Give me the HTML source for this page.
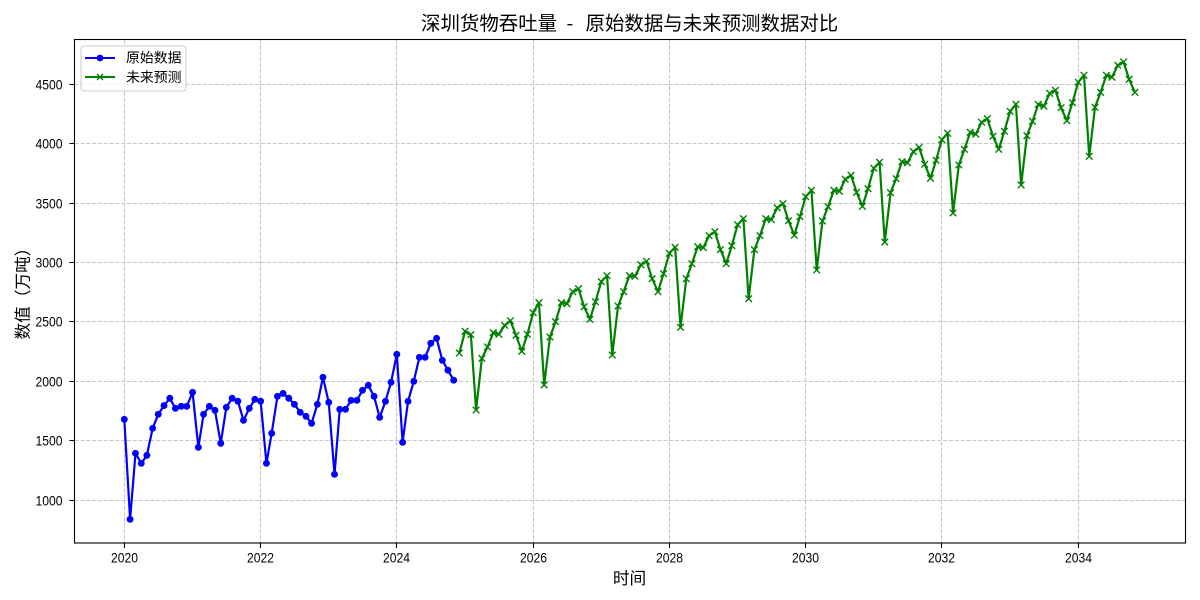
<!DOCTYPE html>
<html lang="zh">
<head>
<meta charset="utf-8">
<title>深圳货物吞吐量</title>
<style>
html,body{margin:0;padding:0;background:#fff;width:1200px;height:600px;overflow:hidden}
svg{display:block}
text{font-family:"WenQuanYi Zen Hei","Noto Sans CJK SC","Liberation Sans",sans-serif;fill:#000;text-spacing-trim:space-all}
text.num{font-family:"Liberation Sans",sans-serif}
</style>
</head>
<body>
<svg id="chart" width="1200" height="600" viewBox="0 0 1200 600" xmlns="http://www.w3.org/2000/svg">
  <rect x="0" y="0" width="1200" height="600" fill="#fff"/>
  <g id="grid"></g>
  <g id="series"></g>
  <rect x="74.5" y="39.5" width="1111" height="503.5" fill="none" stroke="#000" stroke-width="1.1"/>
  <g id="ticks"></g>
  <text y="30" font-size="19.44"><tspan x="421">深圳货物吞吐量</tspan> <tspan x="566.5">-</tspan> <tspan x="585.5">原始数据与未来预测数据对比</tspan></text>
  <text x="629.5" y="584" font-size="16.67" text-anchor="middle">时间</text>
  <text transform="translate(28.5,289.5) rotate(-90)" font-size="16.67" text-anchor="middle">数值（万吨）</text>
  <g>
    <rect x="81" y="46" width="105" height="45" rx="3" ry="3" fill="#fff" fill-opacity="0.8" stroke="#ccc" stroke-width="1.1"/>
    <g>
      <line x1="85" y1="58" x2="115" y2="58" stroke="#0000ff" stroke-width="2.08"/>
      <circle cx="100" cy="58" r="3.4" fill="#0000ff"/>
      <text x="126" y="62.5" font-size="13.89">原始数据</text>
    </g>
    <g>
      <line x1="85" y1="77" x2="115" y2="77" stroke="#008000" stroke-width="2.08"/>
      <path d="M97 74L103 80M97 80L103 74" stroke="#008000" stroke-width="1.4" fill="none"/>
      <text x="126" y="82" font-size="13.89">未来预测</text>
    </g>
  </g>
</svg>
<script>
const originalStart = [2020, 0];
const originalValues = [1680,837,1393,1309,1376,1604,1722,1795,1857,1772,1789,1789,1907,1444,1722,1789,1755,1477,1781,1857,1832,1671,1772,1848,1832,1309,1562,1873,1898,1857,1806,1739,1705,1646,1806,2033,1823,1216,1764,1764,1840,1840,1924,1966,1873,1696,1831,1991,2227,1486,1831,2000,2202,2202,2320,2362,2177,2093,2009];
const forecastStart = [2024, 11];
const forecastValues = [2238,2421,2393,1758,2193,2289,2409,2396,2471,2510,2387,2252,2396,2578,2662,1969,2373,2502,2662,2654,2755,2780,2628,2522,2670,2839,2890,2221,2634,2755,2890,2885,2982,3011,2864,2755,2906,3078,3129,2455,2864,2991,3134,3125,3227,3260,3109,2991,3142,3319,3370,2696,3109,3227,3370,3361,3462,3496,3353,3230,3387,3555,3609,2938,3350,3471,3609,3600,3702,3735,3592,3474,3622,3794,3845,3173,3589,3707,3850,3841,3935,3970,3828,3710,3862,4035,4089,3418,3822,3954,4097,4081,4182,4212,4064,3954,4106,4274,4333,3654,4069,4190,4333,4317,4426,4451,4305,4195,4347,4519,4578,3895,4308,4434,4578,4561,4662,4690,4544,4434];
const xTickYears = [2020,2022,2024,2026,2028,2030,2032,2034];
const yTickValues = [1000,1500,2000,2500,3000,3500,4000,4500];

const NS = 'http://www.w3.org/2000/svg';
const DAY = 86400000;
const T0 = Date.UTC(2020, 0, 1);
function xScale(year, month) {
  return 124.3 + ((Date.UTC(year, month, 1) - T0) / DAY) * (68.13 / 365.25);
}
function yScale(v) {
  return 500 - (v - 1000) * 0.118715;
}
function snap(p) {
  return Math.floor(p) + 0.5;
}
function make(tag, attrs, parent) {
  const el = document.createElementNS(NS, tag);
  for (const k in attrs) el.setAttribute(k, attrs[k]);
  parent.appendChild(el);
  return el;
}
const gridG = document.getElementById('grid');
const tickG = document.getElementById('ticks');
const seriesG = document.getElementById('series');
const gridStyle = {stroke: '#b0b0b0', 'stroke-opacity': 0.7, 'stroke-width': 1.1, 'stroke-dasharray': '4.07 1.76', fill: 'none'};

xTickYears.forEach(function (yr) {
  const x = snap(xScale(yr, 0));
  const g = make('line', Object.assign({x1: x, x2: x, y1: 39.5, y2: 543}, gridStyle), gridG);
  
  
  const t = make('line', {x1: x, x2: x, y1: 543, y2: 548, stroke: '#000', 'stroke-width': 1.1}, tickG);
  
  
  const l = make('text', {class: 'num', x: x, y: 562.5, 'font-size': 13.9, 'text-anchor': 'middle', textLength: 27, lengthAdjust: 'spacingAndGlyphs'}, tickG);
  l.textContent = String(yr);
  
  
});
yTickValues.forEach(function (v) {
  const y = snap(yScale(v));
  const g = make('line', Object.assign({x1: 74.5, x2: 1185.5, y1: y, y2: y}, gridStyle), gridG);
  
  
  const t = make('line', {x1: 69.5, x2: 74.5, y1: y, y2: y, stroke: '#000', 'stroke-width': 1.1}, tickG);
  
  
  const l = make('text', {class: 'num', x: 62.5, y: y + 5, 'font-size': 13.9, 'text-anchor': 'end', textLength: 27, lengthAdjust: 'spacingAndGlyphs'}, tickG);
  l.textContent = String(v);
  
  
});

function seriesPoints(start, values) {
  return values.map(function (v, i) {
    return [xScale(start[0], start[1] + i), yScale(v)];
  });
}
function polyString(pts) {
  return pts.map(function (p) { return p[0].toFixed(2) + ',' + p[1].toFixed(2); }).join(' ');
}

const origPts = seriesPoints(originalStart, originalValues);
const origLine = make('polyline', {points: polyString(origPts), fill: 'none', stroke: '#0000ff', 'stroke-width': 2.2, 'stroke-linejoin': 'round'}, seriesG);


origPts.forEach(function (p) {
  const c = make('circle', {cx: p[0], cy: p[1], r: 3.45, fill: '#0000ff'}, seriesG);
  
  
});

const forePts = seriesPoints(forecastStart, forecastValues);
const foreLine = make('polyline', {points: polyString(forePts), fill: 'none', stroke: '#008000', 'stroke-width': 2.2, 'stroke-linejoin': 'round'}, seriesG);


forePts.forEach(function (p) {
  const s = 3.3;
  const d = 'M' + (p[0] - s) + ' ' + (p[1] - s) + 'L' + (p[0] + s) + ' ' + (p[1] + s) + 'M' + (p[0] - s) + ' ' + (p[1] + s) + 'L' + (p[0] + s) + ' ' + (p[1] - s);
  const m = make('path', {d: d, fill: 'none', stroke: '#008000', 'stroke-width': 1.4}, seriesG);
  
  
});
</script>
</body>
</html>
